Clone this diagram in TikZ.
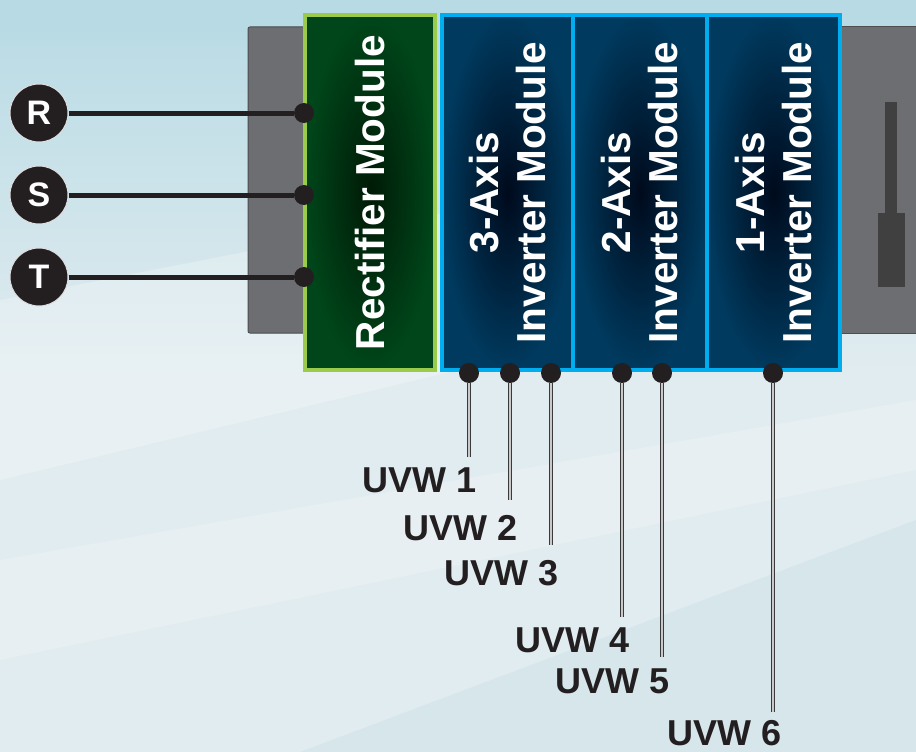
\documentclass[tikz,border=0pt]{standalone}
\usepackage{fontspec}
\setmainfont{Liberation Sans}
\definecolor{wire}{HTML}{231F20}
\definecolor{greenB}{HTML}{9BCB4B}
\definecolor{greenF}{HTML}{00461A}
\definecolor{greenC}{HTML}{001A06}
\definecolor{blueB}{HTML}{00AEEF}
\definecolor{navy}{HTML}{003A5E}
\definecolor{navyC}{HTML}{000A1C}
\definecolor{grayB}{HTML}{6D6E71}
\definecolor{grayL}{HTML}{4D4D4F}
\definecolor{slot}{HTML}{404040}
\definecolor{bgA}{HTML}{B7DAE4}
\definecolor{bgB}{HTML}{E1ECF0}
\definecolor{bgC}{HTML}{CFE2E9}
\definecolor{cableO}{HTML}{3A3A3A}
\definecolor{cableI}{HTML}{C9C9C9}
\begin{document}
\begin{tikzpicture}[x=1pt,y=-1pt,
  modtext/.style={text=white, font=\bfseries\fontsize{40.5}{47}\selectfont, align=center},
  recmod/.style={modtext, draw=greenB, line width=4, inner color=greenC, outer color=greenF, rotate=90, minimum width=355, minimum height=130, inner sep=0},
  invmod/.style={modtext, draw=blueB, line width=4, inner color=navyC, outer color=navy, rotate=90, minimum width=355, inner sep=0},
  phase/.style={circle, fill=wire, draw=white!75!gray, line width=1, minimum size=58, inner sep=0, text=white, font=\bfseries\fontsize{34}{34}\selectfont},
  dot/.style={circle, fill=wire, minimum size=20, inner sep=0},
  feed/.style={draw=wire, line width=5},
  cable/.style={draw=cableO, line width=1.3, double=cableI, double distance=1.6},
  uvw/.style={text=wire, font=\bfseries\fontsize{36}{36}\selectfont, anchor=base east, inner sep=0}
]
\useasboundingbox (0,0) rectangle (916,752);
% background
\shade[top color=bgA, bottom color=bgB, middle color=bgB] (0,0) rectangle (916,752);
\fill[bgA, opacity=0.45] (0,0) rectangle (916,40);
\fill[white, opacity=0.25] (0,300) -- (916,120) -- (916,260) -- (0,480) -- cycle;
\fill[bgC, opacity=0.6] (300,752) -- (916,520) -- (916,752) -- cycle;
\fill[white, opacity=0.2] (0,560) -- (916,400) -- (916,470) -- (0,660) -- cycle;
% gray enclosure
\draw[fill=grayB, draw=grayL, line width=1, rounded corners=2] (248,27) rectangle (330,333);
\draw[fill=grayB, draw=grayL, line width=1] (820,27) rectangle (930,333);
\fill[slot] (885,102) rectangle (897,215);
\fill[slot] (878,213) rectangle (905,287);
% modules
\node[recmod] (rect) at (370,192.5) {Rectifier Module};
\node[invmod, minimum height=131] (inv3) at (507.5,192.5) {3-Axis\\Inverter Module};
\node[invmod, minimum height=134] (inv2) at (640,192.5) {2-Axis\\Inverter Module};
\node[invmod, minimum height=133] (inv1) at (773.5,192.5) {1-Axis\\Inverter Module};
% input phases
\node[phase] (R) at (39,113) {R};
\node[phase] (S) at (39,195) {S};
\node[phase] (T) at (39,277) {T};
\node[dot] (dR) at (304,113) {};
\node[dot] (dS) at (304,195) {};
\node[dot] (dT) at (304,277) {};
\draw[feed] (R) -- (dR);
\draw[feed] (S) -- (dS);
\draw[feed] (T) -- (dT);
% output cables
\coordinate (e1) at (469,457);
\coordinate (e2) at (510,500);
\coordinate (e3) at (551,545);
\coordinate (e4) at (622,617);
\coordinate (e5) at (662,657);
\coordinate (e6) at (773,712);
\node[dot] (b1) at (469,373) {};
\node[dot] (b2) at (510,373) {};
\node[dot] (b3) at (551,373) {};
\node[dot] (b4) at (622,373) {};
\node[dot] (b5) at (662,373) {};
\node[dot] (b6) at (773,373) {};
\draw[cable] (b1.south) -- (e1);
\draw[cable] (b2.south) -- (e2);
\draw[cable] (b3.south) -- (e3);
\draw[cable] (b4.south) -- (e4);
\draw[cable] (b5.south) -- (e5);
\draw[cable] (b6.south) -- (e6);
\node[uvw] (l1) at (477,492) {UVW 1};
\node[uvw] (l2) at (518,540) {UVW 2};
\node[uvw] (l3) at (559,585) {UVW 3};
\node[uvw] (l4) at (630,652) {UVW 4};
\node[uvw] (l5) at (670,693) {UVW 5};
\node[uvw] (l6) at (782,745) {UVW 6};
\end{tikzpicture}
\end{document}
